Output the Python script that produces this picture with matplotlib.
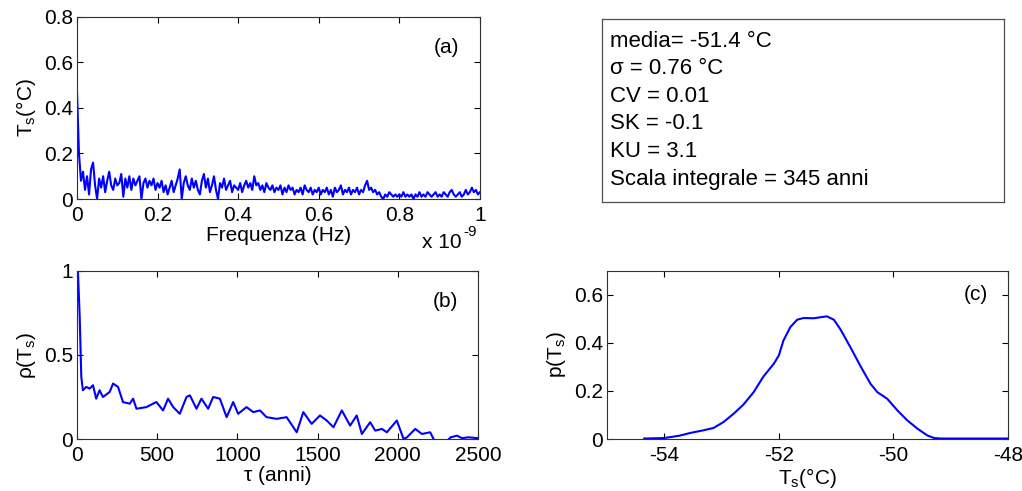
import numpy as np
import matplotlib
matplotlib.use("Agg")
import matplotlib.pyplot as plt

plt.rcParams['font.family'] = ['Liberation Sans', 'DejaVu Sans']
plt.rcParams['mathtext.fontset'] = 'custom'
plt.rcParams['mathtext.rm'] = 'Liberation Sans'
plt.rcParams['mathtext.it'] = 'Liberation Sans:italic'
plt.rcParams['axes.unicode_minus'] = False
plt.rcParams['font.size'] = 15

# (a) spectrum, frequency in units of 1e-9 Hz, step 0.005
spec_vals = [
    0.48, 0.20, 0.08, 0.12, 0.04, 0.10, 0.02, 0.13, 0.16, 0.06,
    0.00, 0.09, 0.05, 0.10, 0.03, 0.08, 0.12, 0.06, 0.04, 0.09,
    0.06, 0.07, 0.11, 0.01, 0.09, 0.05, 0.10, 0.04, 0.09, 0.06,
    0.08, 0.10, 0.00, 0.07, 0.09, 0.05, 0.08, 0.06, 0.09, 0.04,
    0.07, 0.05, 0.08, 0.03, 0.06, 0.02, 0.05, 0.08, 0.03, 0.06,
    0.09, 0.13, 0.00, 0.07, 0.10, 0.06, 0.04, 0.09, 0.05, 0.08,
    0.04, 0.02, 0.08, 0.11, 0.05, 0.09, 0.03, 0.06, 0.10, 0.04,
    0.00, 0.07, 0.05, 0.09, 0.04, 0.06, 0.08, 0.03, 0.06, 0.05,
    0.04, 0.07, 0.03, 0.06, 0.08, 0.05, 0.07, 0.04, 0.10, 0.06,
    0.07, 0.04, 0.06, 0.03, 0.07, 0.05, 0.04, 0.06, 0.03, 0.05,
    0.04, 0.06, 0.02, 0.05, 0.03, 0.06, 0.04, 0.05, 0.02, 0.04,
    0.03, 0.05, 0.02, 0.06, 0.04, 0.03, 0.05, 0.02, 0.04, 0.03,
    0.05, 0.02, 0.04, 0.03, 0.05, 0.02, 0.04, 0.01, 0.05, 0.03,
    0.04, 0.06, 0.02, 0.04, 0.03, 0.05, 0.02, 0.04, 0.03, 0.05,
    0.02, 0.04, 0.03, 0.06, 0.08, 0.04, 0.05, 0.03, 0.04, 0.02,
    0.03, 0.01, 0.00, 0.02, 0.01, 0.03, 0.02, 0.01, 0.02, 0.01,
    0.02, 0.01, 0.03, 0.01, 0.02, 0.01, 0.02, 0.00, 0.02, 0.01,
    0.03, 0.01, 0.02, 0.01, 0.03, 0.02, 0.01, 0.02, 0.03, 0.01,
    0.02, 0.01, 0.03, 0.02, 0.01, 0.03, 0.04, 0.02, 0.01, 0.02,
    0.03, 0.01, 0.02, 0.04, 0.02, 0.03, 0.05, 0.03, 0.04, 0.02, 0.03,
]
spec_freq = np.linspace(0, 1, len(spec_vals))

# (b) autocorrelation
lag = [0, 6, 17, 27, 37, 58, 79, 100, 120, 141, 162, 204, 225, 256, 287,
       329, 350, 371, 433, 495, 537, 568, 600, 641, 683, 704, 745, 776,
       818, 849, 891, 933, 974, 1005, 1057, 1099, 1141, 1182, 1245, 1307,
       1370, 1411, 1463, 1515, 1557, 1599, 1651, 1703, 1744, 1776, 1828,
       1859, 1901, 1932, 1994, 2036, 2057, 2109, 2150, 2202, 2223, 2250,
       2280, 2307, 2330, 2369, 2400, 2440, 2500]
rho = [1.0, 1.0, 0.73, 0.37, 0.29, 0.31, 0.30, 0.32, 0.24, 0.29, 0.25,
       0.28, 0.33, 0.31, 0.22, 0.21, 0.24, 0.18, 0.19, 0.22, 0.17, 0.24,
       0.19, 0.15, 0.25, 0.26, 0.18, 0.24, 0.18, 0.25, 0.24, 0.13, 0.22,
       0.15, 0.19, 0.16, 0.17, 0.13, 0.12, 0.13, 0.04, 0.16, 0.09, 0.14,
       0.11, 0.07, 0.17, 0.08, 0.14, 0.03, 0.10, 0.05, 0.06, 0.04, 0.11,
       0.0, 0.01, 0.06, 0.03, 0.04, 0.0, -0.03, -0.04, -0.01, 0.01, 0.02,
       0.005, 0.01, 0.005]

# (c) probability density
temp = [-54.35, -54.0, -53.73, -53.55, -53.32, -53.14, -52.97, -52.79,
        -52.62, -52.44, -52.27, -52.09, -52.0, -51.92, -51.8, -51.68,
        -51.57, -51.39, -51.28, -51.16, -51.04, -50.93, -50.75, -50.58,
        -50.4, -50.28, -50.11, -49.93, -49.76, -49.58, -49.41, -49.29,
        -49.17, -48.0]
pdf = [0.002, 0.004, 0.014, 0.025, 0.036, 0.046, 0.07, 0.105, 0.143,
       0.195, 0.26, 0.313, 0.348, 0.41, 0.466, 0.497, 0.504, 0.503, 0.507,
       0.511, 0.497, 0.459, 0.382, 0.306, 0.23, 0.195, 0.168, 0.119, 0.078,
       0.043, 0.015, 0.004, 0.002, 0.002]

stats_lines = ["media= -51.4 °C", "σ = 0.76 °C", "CV = 0.01", "SK = -0.1",
               "KU = 3.1", "Scala integrale = 345 anni"]

blue = (0, 0, 1)

fig = plt.figure(figsize=(10.22, 4.91), dpi=100)


def style(ax):
    ax.tick_params(direction='in', top=True, right=True, length=4,
                   labelsize=15)
    ax.tick_params(axis='x', pad=5)
    ax.tick_params(axis='y', pad=3)
    for s in ax.spines.values():
        s.set_color('#303030')
        s.set_linewidth(0.8)


ax_a = fig.add_axes([0.0753, 0.5947, 0.3943, 0.3707])
ax_a.plot(spec_freq, spec_vals, color=blue, lw=1.5)
ax_a.set_xlim(0, 1)
ax_a.set_ylim(0, 0.8)
ax_a.set_xticks([0, 0.2, 0.4, 0.6, 0.8, 1])
ax_a.set_xticklabels(['0', '0.2', '0.4', '0.6', '0.8', '1'])
ax_a.set_yticks([0, 0.2, 0.4, 0.6, 0.8])
ax_a.set_yticklabels(['0', '0.2', '0.4', '0.6', '0.8'])
ax_a.set_xlabel('Frequenza (Hz)', labelpad=1)
ax_a.set_ylabel(r'T$\mathregular{_s}$(°C)', labelpad=4)
ax_a.text(0.918, 0.835, '(a)', transform=ax_a.transAxes, ha='center', va='center')
# multiplier shown MATLAB-style under the right end of the x axis
ax_a.text(0.955, -0.29, 'x 10', transform=ax_a.transAxes,
          ha='right', va='bottom', fontsize=15)
ax_a.text(0.958, -0.22, '-9', transform=ax_a.transAxes,
          ha='left', va='bottom', fontsize=11)
style(ax_a)

ax_b = fig.add_axes([0.0753, 0.1059, 0.3924, 0.3422])
ax_b.plot(lag, rho, color=blue, lw=1.5)
ax_b.set_xlim(0, 2500)
ax_b.set_ylim(0, 1)
ax_b.set_xticks([0, 500, 1000, 1500, 2000, 2500])
ax_b.set_yticks([0, 0.5, 1])
ax_b.set_yticklabels(['0', '0.5', '1'])
ax_b.set_xlabel('τ (anni)', labelpad=1)
ax_b.set_ylabel(r'ρ(T$\mathregular{_s}$)', labelpad=4)
ax_b.text(0.918, 0.82, '(b)', transform=ax_b.transAxes, ha='center', va='center')
style(ax_b)

ax_c = fig.add_axes([0.5939, 0.1059, 0.3924, 0.3422])
ax_c.plot(temp, pdf, color=blue, lw=1.5)
ax_c.set_xlim(-55, -48)
ax_c.set_ylim(0, 0.7)
ax_c.set_xticks([-54, -52, -50, -48])
ax_c.set_yticks([0, 0.2, 0.4, 0.6])
ax_c.set_yticklabels(['0', '0.2', '0.4', '0.6'])
ax_c.set_xlabel(r'T$\mathregular{_s}$(°C)', labelpad=1)
ax_c.set_ylabel(r'p(T$\mathregular{_s}$)', labelpad=4)
ax_c.text(0.92, 0.86, '(c)', transform=ax_c.transAxes, ha='center', va='center')
style(ax_c)

ax_t = fig.add_axes([0.589, 0.5886, 0.3934, 0.3727])
ax_t.set_xticks([])
ax_t.set_yticks([])
for s in ax_t.spines.values():
    s.set_color('#505050')
    s.set_linewidth(0.9)
for i, line in enumerate(stats_lines):
    y_px = 46.7 + i * 27.6
    ax_t.text(0.02, 1 - (y_px - 19) / 183, line, transform=ax_t.transAxes,
              ha='left', va='baseline', fontsize=16)

fig.savefig('out.png', dpi=100)
